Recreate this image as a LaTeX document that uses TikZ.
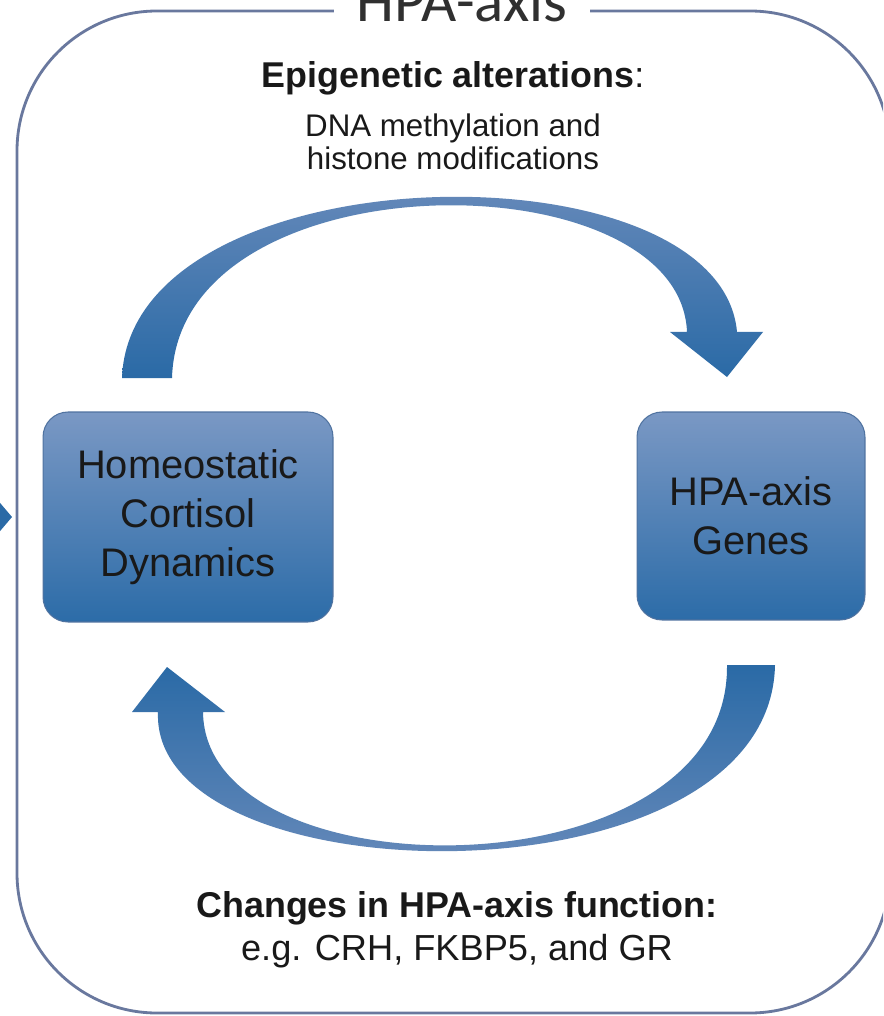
\documentclass[tikz,border=0pt]{standalone}
\usepackage{fontspec}
\setmainfont{Liberation Sans}
\newfontfamily\titlefont{Carlito}
\definecolor{framecol}{RGB}{105,120,158}
\definecolor{boxtop}{RGB}{122,152,196}
\definecolor{boxbot}{RGB}{44,108,168}
\definecolor{boxline}{RGB}{80,115,160}
\definecolor{arrlight}{RGB}{115,144,190}
\definecolor{arrdark}{RGB}{42,106,166}
\definecolor{txt}{RGB}{25,25,25}
\begin{document}
\begin{tikzpicture}[x=0.02cm, y=-0.02cm, >=latex,
    genebox/.style={draw=boxline, line width=0.6pt, rounded corners=0.5cm,
        top color=boxtop, bottom color=boxbot, text=txt, align=center,
        font=\fontsize{22.7}{27.8}\selectfont},
    note/.style={text=txt, anchor=base}]
    % 0. Trang
    \useasboundingbox (0,0) rectangle (883,1016);
    \clip (0,0) rectangle (883,1016);
    \fill[white] (0,0) rectangle (883,1016);

    % 1. Khung va tieu de
    \draw[framecol, line width=1.6pt, rounded corners=2.8cm] (17,11) rectangle (890,1013);
    \node[note, fill=white, inner xsep=0.45cm, text=txt!90,
        font=\titlefont\fontsize{34.6}{40}\selectfont] (title) at (462,22) {HPA-axis};

    % 2. Hai khoi
    \node[genebox, minimum width=5.8cm, minimum height=4.2cm] (cortisol) at (188,517)
        {Homeostatic\\Cortisol\\Dynamics};
    \node[genebox, minimum width=4.56cm, minimum height=4.16cm] (genes) at (751,516)
        {HPA-axis\\Genes};

    % 3. Mui ten cong
    \shade[top color=arrlight, bottom color=arrdark]
        (122,378) .. controls (130,150) and (720,140) .. (737,332)
        -- (763,332) -- (727,377) -- (670,332) -- (687,332)
        .. controls (680,156) and (178,156) .. (172,378) -- cycle;
    \shade[top color=arrdark, bottom color=arrlight]
        (775,665) .. controls (770,910) and (150,900) .. (158,712)
        -- (132,712) -- (167,667) -- (225,712) -- (203,712)
        .. controls (205,897) and (730,897) .. (727,665) -- cycle;
    \fill[arrdark] (-5,497) -- (12,517) -- (-5,537) -- cycle;

    % 4. Chu thich
    \node[note, font=\fontsize{20.4}{24}\selectfont] (epi) at (453,88)
        {\textbf{Epigenetic alterations}:};
    \node[note, font=\fontsize{17.8}{21}\selectfont] (dna) at (453,137) {DNA methylation and};
    \node[note, font=\fontsize{17.8}{21}\selectfont] (hist) at (453,170) {histone modifications};
    \node[note, font=\bfseries\fontsize{20.4}{24}\selectfont] (change) at (457,917)
        {Changes in HPA-axis function:};
    \node[note, font=\fontsize{20.6}{24}\selectfont] (eg) at (457,960) {e.g. CRH, FKBP5, and GR};
\end{tikzpicture}
\end{document}
